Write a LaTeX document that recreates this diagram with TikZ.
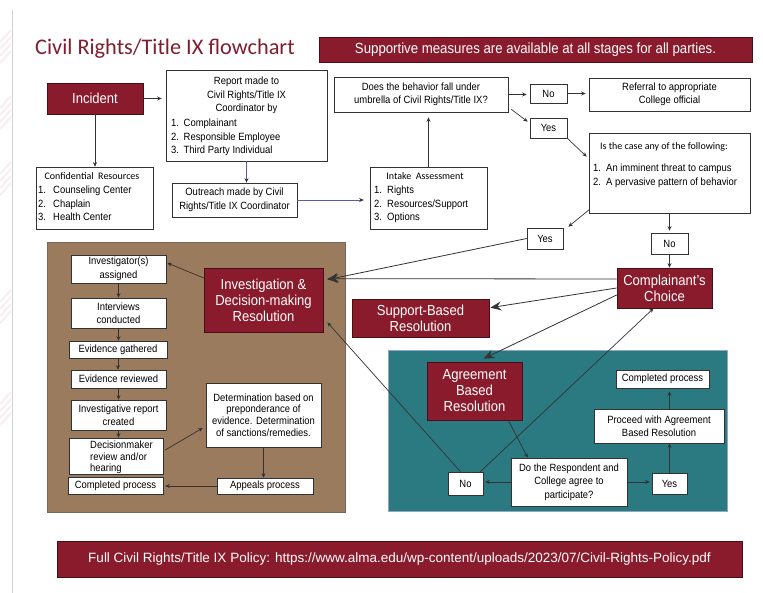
\documentclass[tikz,border=0pt]{standalone}
\usepackage{fontspec}
\setmainfont{Liberation Sans}[FakeStretch=0.9]
\newfontfamily\calfont{Carlito}
\newfontfamily\widefont{Liberation Sans}
\usetikzlibrary{arrows.meta}
\definecolor{maroonc}{HTML}{8A1B2C}
\definecolor{rdark}{HTML}{4A0E18}
\definecolor{titlec}{HTML}{7E1F2F}
\definecolor{brownc}{HTML}{9B7B5E}
\definecolor{brownd}{HTML}{7A6658}
\definecolor{tealc}{HTML}{2B7A82}
\definecolor{teald}{HTML}{8FA6C4}
\definecolor{linec}{HTML}{333333}
\definecolor{bluec}{HTML}{5A5AB4}
\definecolor{stripec}{HTML}{F8EEF0}
\newcommand\bodyf{\fontsize{10.5}{13.5}\selectfont}
\newcommand\bigf{\fontsize{14.5}{16}\selectfont}
\newcommand\smallf{\calfont\fontsize{10}{12}\selectfont}
\newcommand\itm[2][12.5pt]{\makebox[#1][l]{#2.}}
\newcommand\bx[7]{\node[#1,minimum width={#5-#3},minimum height={#6-#4}] (#2) at ({(#3+#5)/2},{(#4+#6)/2}) {#7};}
\begin{document}
\begin{tikzpicture}[x=1pt,y=-1pt,
  wbox/.style={draw=black!80,fill=white,line width=0.6pt,inner sep=0pt,align=center,font=\bodyf},
  rbox/.style={draw=rdark,fill=maroonc,line width=0.7pt,inner sep=0pt,align=center,text=white,font=\bigf},
  txt/.style={inner sep=0pt,align=center,font=\bodyf},
  conn/.style={draw=linec,line width=0.7pt,-{Stealth[length=4.5pt,width=4pt]}},
  bigconn/.style={draw=linec,line width=0.8pt,-{Stealth[length=11pt,width=9pt,inset=4pt]}},
  blueline/.style={draw=bluec,line width=0.7pt,-{Stealth[length=4.5pt,width=4pt,color=linec]}}]
\useasboundingbox (0,0) rectangle (763,593);
\fill[white] (0,0) rectangle (763,593);
% page decoration
\foreach \g in {30,96,162,290,392}{\foreach \k in {0,1,2,3}{\draw[stripec,line width=2pt] (0,\g+\k*7+12) -- (11,\g+\k*7);}}
\draw[black!18,line width=0.8pt] (12,10) -- (12,593);
% title and banners
\node[anchor=base west,inner sep=0pt,text=titlec,font=\calfont\fontsize{22.3}{26}\selectfont] (title) at (35,55) {Civil Rights/Title IX flowchart};
\bx{rbox,font=\fontsize{14.7}{16}\selectfont}{banner}{319}{37}{752}{62}{Supportive measures are available at all stages for all parties.}
\bx{rbox,font=\widefont\fontsize{13.5}{15}\selectfont}{policy}{57}{541}{742}{577}{Full Civil Rights/Title IX Policy: https://www.alma.edu/wp-content/uploads/2023/07/Civil-Rights-Policy.pdf}
% panels
\bx{draw=brownd,fill=brownc,line width=0.8pt,inner sep=0pt}{brownp}{47}{242}{345}{512}{}
\bx{draw=teald,fill=tealc,line width=0.8pt,inner sep=0pt}{tealp}{388}{350}{727}{511}{}
% top part
\bx{rbox}{incident}{47}{83}{143}{114}{Incident}
\bx{wbox}{report}{166}{70}{327}{161}{}
\node[txt,anchor=north] (reporth) at (246.5,77) {Report made to\\Civil Rights/Title IX\\Coordinator by};
\node[txt,align=left,anchor=north west] (reportl) at (171,119) {\itm{1}Complainant\\\itm{2}Responsible Employee\\\itm{3}Third Party Individual};
\bx{wbox}{conf}{36}{167}{153}{229}{}
\node[txt,font=\smallf,anchor=north] (confh) at (92,172) {Confidential\ \ Resources};
\node[txt,align=left,anchor=north west] (confl) at (38,186) {\itm[15pt]{1}Counseling Center\\\itm[15pt]{2}Chaplain\\\itm[15pt]{3}Health Center};
\bx{wbox}{outreach}{172}{183}{297}{217}{Outreach made by Civil\\Rights/Title IX Coordinator}
\bx{wbox}{intake}{370}{167}{487}{229}{}
\node[txt,font=\smallf,anchor=north] (intakeh) at (425,172) {Intake\ \ Assessment};
\node[txt,align=left,anchor=north west] (intakel) at (374,186) {\itm[13pt]{1}Rights\\\itm[13pt]{2}Resources/Support\\\itm[13pt]{3}Options};
\bx{wbox}{does}{334}{77}{508}{112}{Does the behavior fall under\\umbrella of Civil Rights/Title IX?}
\bx{wbox}{notop}{530}{84}{567}{103}{No}
\bx{wbox}{referral}{589}{78}{750}{111}{Referral to appropriate\\College official}
\bx{wbox}{yestop}{530}{118}{567}{138}{Yes}
\bx{wbox}{iscase}{589}{133}{750}{213}{}
\node[txt,font=\smallf,anchor=north] (iscaseh) at (664,142) {Is the case any of the following:};
\node[txt,align=left,anchor=north west] (iscasel) at (593,164) {\itm[13pt]{1}An imminent threat to campus\\\itm[13pt]{2}A pervasive pattern of behavior};
\bx{wbox}{yesmid}{527}{228}{563}{249}{Yes}
\bx{wbox}{nomid}{651}{233}{688}{254}{No}
\bx{rbox}{cc}{617}{268}{712}{308}{Complainant's\\Choice}
\bx{rbox}{support}{352}{299}{489}{337}{Support-Based\\Resolution}
% brown panel content
\bx{rbox}{invest}{204}{268}{323}{332}{Investigation \&\\Decision-making\\Resolution}
\bx{wbox}{inv1}{71}{255}{166}{283}{Investigator(s)\\assigned}
\bx{wbox}{inv2}{71}{298}{166}{328}{Interviews\\conducted}
\bx{wbox}{inv3}{69}{341}{167}{358}{Evidence gathered}
\bx{wbox}{inv4}{71}{370}{166}{388}{Evidence reviewed}
\bx{wbox}{inv5}{71}{400}{166}{430}{Investigative report\\created}
\bx{wbox}{inv6}{69}{438}{163}{474}{}
\node[txt,align=left,anchor=north west,font=\fontsize{10.5}{11.5}\selectfont] (inv6t) at (90,441) {Decisionmaker\\review and/or\\hearing};
\bx{wbox}{comp1}{68}{477}{163}{494}{Completed process}
\bx{wbox,font=\fontsize{10.5}{11.7}\selectfont}{determ}{206}{383}{321}{447}{Determination based on\\preponderance of\\evidence. Determination\\of sanctions/remedies.}
\bx{wbox}{appeals}{217}{478}{313}{494}{Appeals process}
% teal panel content
\bx{rbox}{agree}{427}{362}{522}{420}{Agreement\\Based\\Resolution}
\bx{wbox}{noteal}{448}{472}{483}{495}{No}
\bx{wbox}{doq}{511}{458}{627}{506}{Do the Respondent and\\College agree to\\participate?}
\bx{wbox}{yesteal}{652}{473}{687}{494}{Yes}
\bx{wbox}{proceed}{594}{409}{724}{443}{Proceed with Agreement\\Based Resolution}
\bx{wbox}{compteal}{616}{370}{709}{388}{Completed process}
% connectors
\draw[conn,shorten >=4pt] (incident.east) -- (incident.east -| report.west);
\draw[conn] (incident.south) -- (incident.south |- conf.north);
\draw[blueline] (report.south) -- (report.south |- outreach.north);
\draw[blueline,shorten >=6pt] (outreach.east) -- (outreach.east -| intake.west);
\draw[conn,shorten >=5pt] (intake.north) -- (intake.north |- does.south);
\draw[conn,shorten >=3pt] (does.east) -- (does.east -| notop.west);
\draw[conn,shorten >=3pt] (notop.east) -- (notop.east -| referral.west);
\draw[conn] ([shift={(3,-3)}]does.south east) -- ([shift={(-2,4)}]yestop.north west);
\draw[conn] (yestop.south east) -- ([shift={(-2,24)}]iscase.north west);
\draw[conn] ([shift={(1,-4)}]iscase.south west) -- ([shift={(5,-1)}]yesmid.north east);
\draw[conn,shorten >=2pt] (iscase.south) -- (iscase.south |- nomid.north);
\draw[conn] (nomid.south) -- (nomid.south |- cc.north);
\draw[bigconn] (yesmid.west) -- ([shift={(4,12)}]invest.north east);
\draw[bigconn] ([shift={(0,-9)}]cc.west) -- ([shift={(4,11)}]invest.north east);
\draw[bigconn] (cc.west) -- ([shift={(1,9)}]support.north east);
\draw[bigconn] ([shift={(0,7)}]cc.west) -- ([shift={(9,-3)}]agree.north);
\draw[conn] ([xshift=-14pt]agree.south east) -- ([xshift=17pt]doq.north west);
\draw[conn,shorten >=2pt] (doq.west) -- (doq.west -| noteal.east);
\draw[conn,shorten >=2pt] (doq.east) -- (doq.east -| yesteal.west);
\draw[conn] (yesteal.north) -- (yesteal.north |- proceed.south);
\draw[conn,shorten >=3pt] (yesteal.north |- proceed.north) -- (yesteal.north |- compteal.south);
\draw[conn] ([xshift=-3pt]noteal.north east) -- ([xshift=-11pt]cc.south);
\draw[conn] ([xshift=-5pt]noteal.north) -- ([shift={(4,-10)}]invest.south east);
\draw[conn] ([shift={(0,-22)}]invest.west) -- ([shift={(1,-6)}]inv1.east);
\draw[conn] (inv1.south) -- (inv1.south |- inv2.north);
\draw[conn] (inv2.south) -- (inv2.south |- inv3.north);
\draw[conn] (inv3.south) -- (inv3.south |- inv4.north);
\draw[conn] (inv4.south) -- (inv4.south |- inv5.north);
\draw[conn] (inv5.south) -- (inv5.south |- inv6.north);
\draw[conn] ([shift={(2,-6)}]inv6.east) -- ([shift={(-3,13)}]determ.west);
\draw[conn] (determ.south) -- (determ.south |- appeals.north);
\draw[conn,shorten >=2pt] (appeals.west) -- (appeals.west -| comp1.east);
\end{tikzpicture}
\end{document}
